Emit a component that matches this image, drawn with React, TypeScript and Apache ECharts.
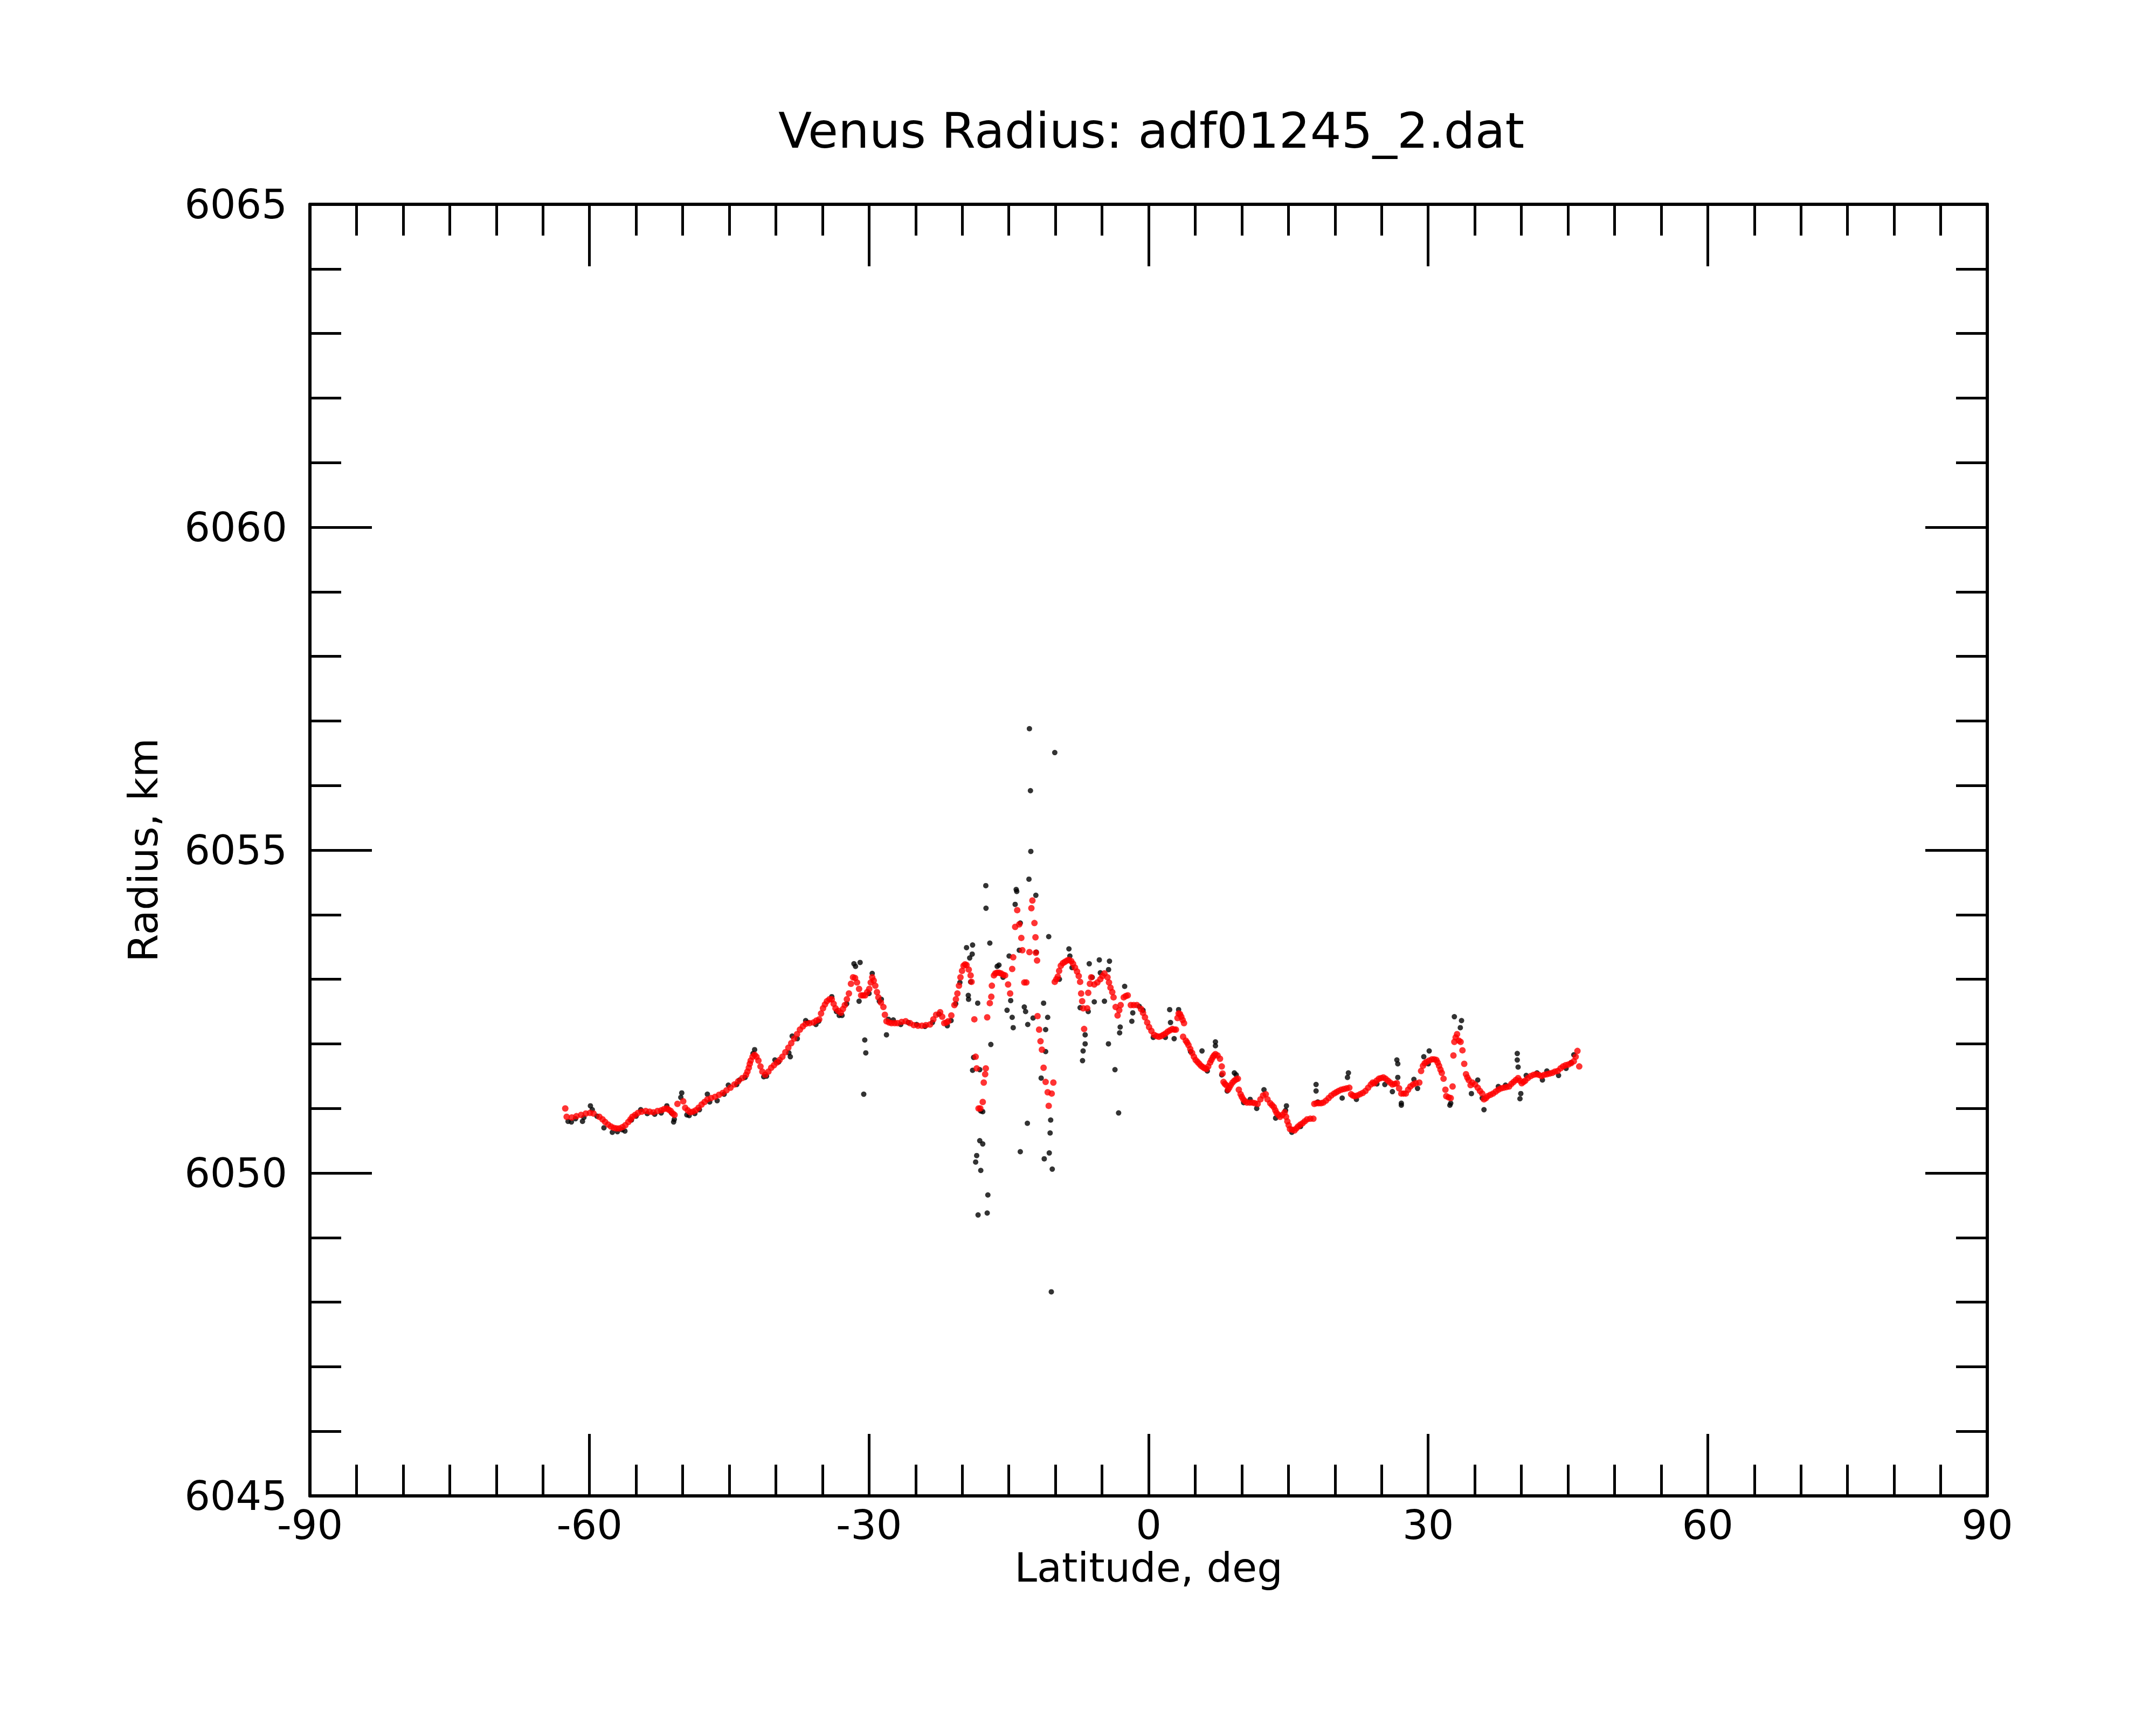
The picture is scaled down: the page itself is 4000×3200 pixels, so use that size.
import React, { useEffect, useRef } from "react";
import * as echarts from "echarts";

const TITLE = "Venus Radius: adf01245_2.dat";
const X_NAME = "Latitude, deg";
const Y_NAME = "Radius, km";
const X_MIN = -90, X_MAX = 90, X_STEP = 30;
const Y_MIN = 6045, Y_MAX = 6065, Y_STEP = 5;

// smoothed radius (red)
const SMOOTH: number[][] = [
  [-62.6,6051.0],[-62.45,6050.87],[-61.9,6050.86],[-61.4,6050.88],[-60.9,6050.9],[-60.4,6050.92],[-59.95,6050.93],[-59.56,6050.92],[-58.94,6050.87],[-58.6,6050.83],[-58.32,6050.79],[-58.0,6050.75],[-57.7,6050.72],[-57.4,6050.7],[-57.1,6050.69],[-56.8,6050.69],[-56.46,6050.71],[-56.15,6050.74],[-55.83,6050.79],[-55.6,6050.83],[-55.4,6050.87],[-55.1,6050.9],[-54.8,6050.93],[-54.4,6050.95],[-53.97,6050.96],[-53.55,6050.95],[-53.15,6050.94],[-52.7,6050.96],[-52.3,6050.97],[-52.0,6050.99],[-51.7,6051.0],[-51.5,6050.98],[-51.28,6050.96],[-51.05,6050.92],[-50.87,6050.9],[-50.56,6051.07],[-49.94,6051.11],[-49.73,6051.01],[-49.45,6050.97],[-49.2,6050.94],[-48.9,6050.95],[-48.6,6050.97],[-48.3,6051.01],[-47.97,6051.06],[-47.65,6051.1],[-47.35,6051.14],[-46.95,6051.16],[-46.52,6051.18],[-46.1,6051.21],[-45.7,6051.24],[-45.3,6051.28],[-44.87,6051.32],[-44.45,6051.37],[-44.04,6051.42],[-43.6,6051.47],[-43.2,6051.52],[-43.05,6051.57],[-42.9,6051.63],[-42.8,6051.69],[-42.7,6051.74],[-42.5,6051.8],[-42.28,6051.83],[-42.08,6051.8],[-41.87,6051.74],[-41.65,6051.65],[-41.45,6051.57],[-41.14,6051.52],[-40.8,6051.57],[-40.5,6051.63],[-40.2,6051.67],[-39.9,6051.71],[-39.6,6051.75],[-39.3,6051.8],[-38.98,6051.87],[-38.66,6051.94],[-38.35,6052.01],[-38.04,6052.08],[-37.73,6052.15],[-37.42,6052.22],[-37.1,6052.27],[-36.8,6052.31],[-36.4,6052.32],[-35.97,6052.33],[-35.65,6052.36],[-35.35,6052.38],[-35.15,6052.47],[-34.94,6052.55],[-34.73,6052.61],[-34.52,6052.66],[-34.25,6052.69],[-34.0,6052.69],[-33.8,6052.62],[-33.6,6052.55],[-33.3,6052.51],
  [-33.03,6052.48],[-32.8,6052.54],[-32.6,6052.6],[-32.38,6052.69],[-32.16,6052.78],[-31.94,6052.93],[-31.72,6053.03],[-31.5,6053.02],[-31.29,6052.95],[-31.07,6052.85],[-30.85,6052.75],[-30.64,6052.75],[-30.42,6052.75],[-30.2,6052.8],[-29.98,6052.85],[-29.82,6052.95],[-29.66,6053.03],[-29.5,6052.98],[-29.33,6052.9],[-29.15,6052.8],[-29.0,6052.72],[-28.73,6052.64],[-28.46,6052.57],[-28.3,6052.45],[-28.13,6052.35],[-27.85,6052.33],[-27.59,6052.32],[-27.25,6052.32],[-26.94,6052.32],[-26.5,6052.34],[-26.07,6052.35],[-25.6,6052.32],[-25.2,6052.29],[-24.75,6052.28],[-24.33,6052.28],[-23.9,6052.29],[-23.46,6052.3],[-23.1,6052.38],[-22.8,6052.45],[-22.37,6052.49],[-22.15,6052.42],[-21.93,6052.32],[-21.7,6052.33],[-21.5,6052.35],[-21.17,6052.44],[-20.84,6052.6],[-20.68,6052.69],[-20.52,6052.78],[-20.35,6052.9],[-20.19,6053.03],[-20.02,6053.13],[-19.86,6053.21],[-19.7,6053.23],[-19.54,6053.22],[-19.3,6053.15],[-19.1,6053.06],[-19.0,6052.96],[-18.7,6052.38],[-18.56,6051.8],[-18.45,6051.62],[-18.25,6051.0],[-18.06,6051.0],[-17.8,6051.1],[-17.69,6051.4],[-17.54,6051.53],[-17.47,6051.62],[-17.32,6052.41],[-17.04,6052.63],[-16.88,6052.73],[-16.82,6052.9],[-16.6,6053.06],[-16.45,6053.09],[-16.27,6053.1],[-16.05,6053.1],[-15.84,6053.09],[-15.6,6053.07],[-15.4,6053.06],[-15.08,6052.92],[-14.86,6052.78],[-14.64,6053.16],[-14.53,6053.34],[-14.32,6053.81],[-14.1,6054.07],[-13.88,6053.85],[-13.66,6053.64],[-13.55,6053.45],[-13.34,6052.95],[-13.12,6052.95],[-12.79,6053.42],[-12.58,6054.1],[-12.47,6054.22],[-12.25,6053.87],[-12.14,6053.65],[-12.1,6053.41],[-11.97,6053.29],[-11.92,6052.43],[-11.75,6052.22],[-11.6,6052.04],[-11.45,6051.91],[-11.27,6051.63],[-11.05,6051.41],[-10.83,6051.25],[-10.72,6051.04],[-10.4,6051.23],[-10.22,6051.4],[-10.07,6052.96],[-9.9,6053.0],[-9.75,6053.04],[-9.6,6053.13],[-9.42,6053.21],[-9.2,6053.25],[-8.98,6053.27],[-8.75,6053.29],[-8.55,6053.3],[-8.3,6053.28],[-8.11,6053.24],[-7.9,6053.18],[-7.68,6053.12],[-7.5,6053.05],[-7.35,6052.96],[-7.24,6052.78],[-7.13,6052.66],[-7.02,6052.55],[-6.92,6052.23],[-6.59,6052.55],[-6.48,6052.79],[-6.3,6052.93],[-6.16,6053.03],[-5.83,6052.92],[-5.5,6052.95],[-5.18,6053.0],[-4.95,6053.05],[-4.74,6053.09],[-4.41,6053.03],[-4.25,6052.95],[-4.09,6052.87],[-3.9,6052.8],[-3.76,6052.72],[-3.54,6052.57],[-3.33,6052.44],[-3.15,6052.52],[-3.0,6052.6],[-2.67,6052.72],[-2.45,6052.74],[-2.24,6052.75],[-1.91,6052.6],[-1.6,6052.6],[-1.26,6052.6],[-0.82,6052.54],[-0.6,6052.48],[-0.39,6052.41],[-0.15,6052.33],[0.05,6052.26],[0.3,6052.2],[0.59,6052.14],[0.85,6052.12],
  [1.1,6052.11],[1.35,6052.12],[1.58,6052.14],[1.82,6052.16],[2.06,6052.19],[2.3,6052.21],[2.55,6052.23],[2.75,6052.22],[2.93,6052.22],[3.1,6052.4],[3.22,6052.47],[3.37,6052.46],[3.51,6052.42],[3.65,6052.37],[3.8,6052.32],[3.7,6052.11],[3.99,6052.05],[4.13,6052.02],[4.28,6051.98],[4.47,6051.92],[4.67,6051.86],[4.86,6051.8],[5.05,6051.75],[5.25,6051.72],[5.44,6051.69],[5.63,6051.66],[5.82,6051.64],[6.02,6051.62],[6.21,6051.61],[6.4,6051.65],[6.6,6051.71],[6.74,6051.75],[6.88,6051.79],[7.02,6051.82],[7.17,6051.84],[7.4,6051.82],[7.66,6051.77],[7.85,6051.65],[7.94,6051.54],[8.04,6051.41],[8.18,6051.38],[8.33,6051.36],[8.52,6051.29],[8.66,6051.32],[8.81,6051.36],[9.0,6051.4],[9.2,6051.43],[9.4,6051.45],[9.58,6051.46],[9.68,6051.29],[9.87,6051.22],[10.0,6051.18],[10.16,6051.14],[10.35,6051.11],[10.55,6051.09],[10.85,6051.09],[11.13,6051.09],[11.4,6051.08],[11.7,6051.07],[12.0,6051.14],[12.28,6051.2],[12.57,6051.22],[12.76,6051.14],[13.05,6051.08],[13.25,6051.05],[13.44,6051.02],[13.6,6050.97],[13.73,6050.93],[13.92,6050.9],[14.11,6050.87],[14.35,6050.9],[14.6,6050.94],[14.75,6050.87],[14.89,6050.8],[15.03,6050.74],[15.17,6050.68],[15.4,6050.67],[15.66,6050.66],[15.85,6050.69],[16.04,6050.72],[16.28,6050.75],[16.52,6050.77],[16.75,6050.8],[17.01,6050.83],[17.35,6050.84],[17.68,6050.84],[17.78,6051.07],[18.02,6051.08],[18.26,6051.08],[18.5,6051.08],[18.74,6051.09],[19.03,6051.12],[19.32,6051.16],[19.6,6051.2],[19.9,6051.23],[20.14,6051.25],[20.38,6051.27],[20.67,6051.29],[20.96,6051.3],[21.25,6051.31],[21.54,6051.32],[21.73,6051.22],[21.92,6051.2],[22.12,6051.19],[22.4,6051.2],[22.69,6051.22],[22.98,6051.24],[23.27,6051.27],[23.56,6051.32],[23.85,6051.37],[24.05,6051.4],
  [24.23,6051.39],[24.47,6051.43],[24.71,6051.46],[24.95,6051.47],[25.19,6051.48],[25.43,6051.46],[25.68,6051.43],[25.92,6051.4],[26.16,6051.37],[26.4,6051.38],[26.64,6051.39],[26.88,6051.31],[27.12,6051.23],[27.36,6051.23],[27.6,6051.23],[27.85,6051.29],[28.09,6051.34],[28.38,6051.37],[28.66,6051.39],[29.05,6051.4],[29.24,6051.58],[29.44,6051.66],[29.63,6051.7],[29.82,6051.72],[30.1,6051.74],[30.4,6051.76],[30.64,6051.76],[30.88,6051.75],[31.02,6051.71],[31.17,6051.66],[31.32,6051.6],[31.46,6051.55],[31.65,6051.46],[31.85,6051.29],[31.94,6051.19],[32.2,6051.17],[32.42,6051.16],[32.62,6051.34],[32.71,6051.82],[32.81,6052.03],[32.95,6052.1],[33.1,6052.15],[33.29,6052.05],[33.48,6052.03],[33.68,6051.9],[33.87,6051.69],[34.06,6051.53],[34.2,6051.48],[34.35,6051.44],[34.55,6051.36],[34.74,6051.4],[35.03,6051.37],[35.32,6051.32],[35.56,6051.27],[35.8,6051.23],[35.99,6051.14],[36.2,6051.16],[36.38,6051.19],[36.67,6051.21],[36.96,6051.23],[37.25,6051.26],[37.53,6051.29],[37.82,6051.31],[38.11,6051.32],[38.4,6051.33],[38.69,6051.34],[38.93,6051.38],[39.17,6051.41],[39.41,6051.44],[39.65,6051.47],[39.85,6051.43],[40.04,6051.39],[40.23,6051.41],[40.42,6051.43],[40.7,6051.47],[41.0,6051.5],[41.3,6051.52],[41.58,6051.53],[41.87,6051.52],[42.16,6051.5],[42.45,6051.52],[42.74,6051.53],[43.03,6051.54],[43.32,6051.55],[43.6,6051.57],[43.9,6051.58],[44.2,6051.62],[44.47,6051.65],[44.76,6051.67],[45.05,6051.68],[45.34,6051.7],[45.63,6051.73],[45.83,6051.8],[46.02,6051.89],[46.21,6051.65]
];

// raw radius samples (black)
const RAW: number[][] = [
  [-62.3,6050.8],[-61.94,6050.79],[-61.5,6050.84],[-60.75,6050.8],[-60.6,6050.86],[-59.9,6051.04],[-59.7,6050.98],[-59.2,6050.88],[-58.45,6050.7],[-57.55,6050.63],[-57.0,6050.64],[-56.5,6050.67],[-56.2,6050.65],[-55.5,6050.82],[-55.0,6050.88],[-54.5,6050.98],[-53.8,6050.92],[-53.0,6050.91],[-52.3,6050.93],[-51.7,6051.04],[-51.2,6050.93],[-50.97,6050.79],[-50.9,6050.83],[-50.1,6051.24],[-50.2,6051.17],[-49.55,6050.9],[-49.3,6050.89],[-48.7,6050.92],[-48.2,6050.98],[-47.35,6051.22],[-47.1,6051.1],[-46.3,6051.12],[-45.55,6051.22],[-45.1,6051.36],[-44.2,6051.37],[-43.9,6051.44],[-43.3,6051.48],[-42.28,6051.91],[-42.45,6051.85],[-41.3,6051.49],[-41.0,6051.5],[-40.1,6051.75],[-39.7,6051.72],[-38.45,6051.8],[-38.25,6052.12],[-38.6,6051.86],[-37.7,6052.08],[-36.8,6052.36],[-36.6,6052.33],[-35.7,6052.3],[-35.4,6052.35],[-34.0,6052.73],[-33.5,6052.5],[-33.2,6052.44],
  [-32.9,6052.44],[-32.4,6052.62],[-31.62,6053.24],[-31.45,6053.2],[-30.96,6053.26],[-31.07,6052.66],[-30.46,6052.06],[-30.35,6051.86],[-30.57,6051.22],[-29.66,6053.09],[-30.0,6052.78],[-28.68,6052.69],[-28.9,6052.66],[-28.13,6052.14],[-27.92,6052.38],[-27.4,6052.37],[-26.6,6052.3],[-25.8,6052.33],[-24.9,6052.3],[-24.0,6052.27],[-23.2,6052.33],[-22.5,6052.46],[-21.6,6052.28],[-21.2,6052.36],[-20.7,6052.62],[-20.25,6052.95],[-19.54,6053.49],[-18.89,6053.53],[-18.93,6053.39],[-19.2,6053.33],[-19.1,6052.96],[-19.32,6052.69],[-19.35,6052.75],[-18.34,6052.63],[-17.47,6054.45],[-17.45,6054.1],[-17.04,6053.56],[-16.93,6051.99],[-18.78,6051.79],[-18.89,6051.59],[-18.12,6051.6],[-18.01,6050.96],[-17.8,6050.95],[-18.12,6050.5],[-17.8,6050.45],[-18.45,6050.27],[-18.56,6050.17],[-18.01,6050.04],[-17.25,6049.66],[-18.3,6049.35],[-17.32,6049.38],[-16.06,6053.22],[-16.25,6053.2],[-15.62,6053.03],[-15.19,6052.52],[-14.64,6052.41],[-14.53,6052.25],[-14.8,6052.67],[-14.97,6053.36],[-14.32,6054.16],[-14.21,6054.39],[-14.15,6054.36],[-13.77,6053.87],[-13.88,6053.45],[-13.34,6052.57],[-13.2,6052.5],[-12.97,6052.3],[-13.01,6050.77],[-13.77,6050.33],[-12.84,6054.55],[-12.64,6054.98],[-12.68,6055.92],[-12.79,6056.88],[-12.1,6054.3],[-12.05,6053.42],[-12.4,6052.4],[-11.27,6052.63],[-10.83,6052.41],[-11.05,6052.22],[-11.05,6051.88],[-11.53,6051.47],[-10.72,6053.66],[-10.07,6056.51],[-10.51,6050.82],[-10.57,6050.62],[-10.66,6050.31],[-11.2,6050.22],[-10.34,6050.06],[-10.44,6048.16],[-9.57,6053.0],[-8.55,6053.47],[-8.45,6053.36],[-8.22,6053.18],[-6.37,6053.24],[-6.05,6053.03],[-5.29,6053.3],[-5.18,6053.1],[-4.2,6053.28],[-4.3,6053.15],[-4.74,6052.66],[-5.83,6052.65],[-6.48,6052.5],[-7.35,6052.56],[-6.81,6052.14],[-6.81,6052.0],[-7.03,6051.89],[-7.09,6051.74],[-4.31,6052.0],[-3.61,6051.6],[-3.22,6050.93],[-3.11,6052.17],[-3.05,6052.26],[-2.57,6052.89],[-1.7,6052.48],[-1.8,6052.35],[-1.0,6052.58],[-0.6,6052.52],[0.5,6052.1],
  [2.26,6052.53],[2.35,6052.33],[3.22,6052.53],[2.74,6052.08],[7.17,6052.03],[7.17,6051.97],[5.73,6051.89],[6.3,6051.58],[9.2,6051.55],[9.4,6051.52],[7.85,6051.52],[8.43,6051.27],[10.9,6051.14],[11.6,6051.0],[12.38,6051.29],[13.63,6050.85],[14.79,6051.04],[14.7,6050.97],[15.37,6050.63],[17.97,6051.37],[17.97,6051.27],[18.16,6051.1],[21.44,6051.55],[21.34,6051.48],[20.77,6051.16],[22.3,6051.14],[1.8,6052.1],[4.5,6051.88],[10.2,6051.09],[16.3,6050.72],
  [26.64,6051.75],[26.74,6051.69],[26.74,6051.48],[27.12,6051.08],[27.12,6051.05],[26.16,6051.26],[25.35,6051.37],[28.47,6051.45],[28.86,6051.31],[29.53,6051.8],[30.11,6051.89],[30.01,6051.69],[32.81,6052.42],[33.58,6052.36],[33.45,6052.25],[32.33,6051.05],[32.42,6051.08],[34.64,6051.23],[35.32,6051.44],[35.99,6050.98],[35.8,6051.16],[37.53,6051.34],[38.3,6051.36],[39.56,6051.85],[39.56,6051.75],[39.65,6051.64],[39.85,6051.15],[39.94,6051.23],[40.52,6051.51],[41.68,6051.55],[42.26,6051.44],[42.74,6051.58],[43.99,6051.51],[45.34,6051.71],[45.63,6051.83],[24.5,6051.38],[44.8,6051.62]
];

const FONT = "DejaVu Sans";
const BLACK = "#000000";

function axisCommon(showLabel: boolean) {
  return {
    type: "value" as const,
    axisLine: { show: true, onZero: false, lineStyle: { color: BLACK, width: 6 } },
    axisTick: { show: true, inside: true, length: 115, lineStyle: { color: BLACK, width: 5 } },
    minorTick: { show: true, length: 58, lineStyle: { color: BLACK, width: 5 } },
    splitLine: { show: false },
    axisLabel: { show: showLabel, color: BLACK, fontFamily: FONT, fontSize: 75, formatter: (v: number) => String(v) },
  };
}

export default function App() {
  const ref = useRef<HTMLDivElement>(null);
  useEffect(() => {
    if (!ref.current) return;
    const chart = echarts.init(ref.current, undefined, { renderer: "svg" });
    const xBase = (pos: string, show: boolean) => {
      const c: any = axisCommon(show);
      c.min = X_MIN; c.max = X_MAX; c.interval = X_STEP; c.position = pos;
      c.minorTick.splitNumber = 6;
      c.axisLabel.margin = 16;
      return c;
    };
    const yBase = (pos: string, show: boolean) => {
      const c: any = axisCommon(show);
      c.min = Y_MIN; c.max = Y_MAX; c.interval = Y_STEP; c.position = pos;
      c.minorTick.splitNumber = 5;
      c.axisLabel.margin = 42;
      return c;
    };
    const x0 = xBase("bottom", true);
    x0.name = X_NAME; x0.nameLocation = "middle"; x0.nameGap = 92;
    x0.nameTextStyle = { color: BLACK, fontFamily: FONT, fontSize: 75 };
    const y0 = yBase("left", true);
    y0.name = Y_NAME; y0.nameLocation = "middle"; y0.nameGap = 272;
    y0.nameTextStyle = { color: BLACK, fontFamily: FONT, fontSize: 75 };
    chart.setOption({
      animation: false,
      backgroundColor: "#ffffff",
      title: {
        text: TITLE, left: 2131, top: 192, textAlign: "center",
        textStyle: { color: BLACK, fontFamily: FONT, fontSize: 91, fontWeight: "normal" },
      },
      grid: { left: 575, top: 379, width: 3112, height: 2396, containLabel: false },
      xAxis: [x0, xBase("top", false)],
      yAxis: [y0, yBase("right", false)],
      series: [
        { type: "scatter", data: RAW, xAxisIndex: 0, yAxisIndex: 0, symbol: "circle", symbolSize: 10, itemStyle: { color: BLACK }, z: 2, silent: true },
        { type: "scatter", data: SMOOTH, xAxisIndex: 0, yAxisIndex: 0, symbol: "circle", symbolSize: 12, itemStyle: { color: "#ff0000" }, z: 3, silent: true },
      ],
    });
    return () => chart.dispose();
  }, []);
  return <div ref={ref} style={{ position: "absolute", left: 0, top: 0, width: 4000, height: 3200 }} />;
}
